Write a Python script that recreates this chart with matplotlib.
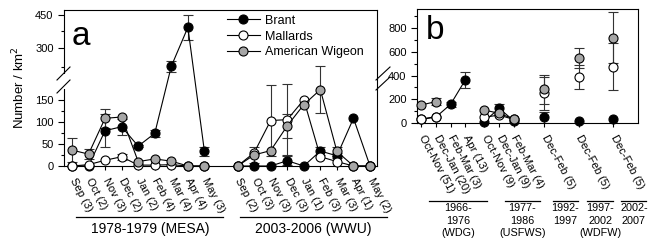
import numpy as np
import matplotlib
matplotlib.use("Agg")
import matplotlib.pyplot as plt
from matplotlib.lines import Line2D
from matplotlib.patches import Rectangle
import matplotlib.transforms as mtrans

plt.rcParams["font.family"] = ["Liberation Sans", "DejaVu Sans"]

# ---- panel a data (two survey periods, Sep..May) ----
months_a1 = ["Sep (3)", "Oct (2)", "Nov (3)", "Dec (2)", "Jan (2)", "Feb (4)",
             "Mar (4)", "Apr (4)", "May (3)"]
months_a2 = ["Sep (2)", "Oct (3)", "Nov (3)", "Dec (3)", "Jan (1)", "Feb (3)",
             "Mar (3)", "Apr (1)", "May (2)"]
groups_a = ["1978-1979 (MESA)", "2003-2006 (WWU)"]

brant_a1 = [0, 0, 80, 89, 45, 74, 226, 392, 33]
brant_a1_err = [0, 0, 37, 18, 3, 8, 12, 55, 11]
mallard_a1 = [0, 3, 13, 21, 2, 2, 3, 0, 0]
mallard_a1_err = [0, 0, 0, 7, 0, 0, 0, 0, 0]
wigeon_a1 = [36, 27, 108, 111, 10, 16, 11, 0, 0]
wigeon_a1_err = [28, 12, 22, 0, 0, 0, 0, 0, 0]

brant_a2 = [0, 0, 0, 12, 0, 34, 23, 108, 0]
brant_a2_err = [0, 0, 0, 10, 0, 8, 6, 0, 0]
mallard_a2 = [0, 30, 103, 105, 150, 21, 10, 0, 0]
mallard_a2_err = [0, 0, 80, 80, 0, 0, 0, 0, 0]
wigeon_a2 = [0, 25, 35, 91, 139, 173, 33, 0, 0]
wigeon_a2_err = [0, 18, 0, 27, 0, 53, 10, 0, 0]

# ---- panel b data (historic surveys) ----
periods_b = ["Oct-Nov (51)", "Dec-Jan (20)", "Feb-Mar (3)", "Apr (13)",
             "Oct-Nov (9)", "Dec-Jan (9)", "Feb-Mar (4)",
             "Dec-Feb (5)", "Dec-Feb (5)", "Dec-Feb (5)"]
brant_b = [30, 50, 157, 362, 11, 124, 20, 48, 20, 31]
brant_b_err = [0, 0, 20, 70, 0, 36, 0, 45, 0, 0]
mallard_b = [34, 53, np.nan, np.nan, 48, 67, 30, 250, 385, 474]
mallard_b_err = [0, 0, 0, 0, 0, 0, 0, 140, 100, 196]
wigeon_b = [152, 180, np.nan, np.nan, 109, 82, 34, 284, 545, 718]
wigeon_b_err = [0, 28, 0, 0, 0, 0, 0, 120, 84, 214]
groups_b = ["1966-\n1976\n(WDG)", "1977-\n1986\n(USFWS)", "1992-\n1997",
            "1997-\n2002\n(WDFW)", "2002-\n2007"]

# ---- layout ----
xa1 = np.arange(9)
xa2 = np.arange(9) + 10
xb = np.array([0, 1, 2, 3, 4.3, 5.3, 6.3, 8.4, 10.75, 13.1])
b_segments = [(0, 4), (4, 7), (7, 8), (8, 9), (9, 10)]

GRAY = "#a6a6a6"
styles = [("Brant", "black"), ("Mallards", "white"), ("American Wigeon", GRAY)]


def fwd(v):
    v = np.asarray(v, dtype=float)
    return np.where(v <= 236, v, 236 + 0.5 * (v - 236))


def inv(u):
    u = np.asarray(u, dtype=float)
    return np.where(u <= 236, u, 236 + 2.0 * (u - 236))


def plot_series(ax, x, y, err, face, label=None):
    err = np.asarray(err, dtype=float)
    ax.errorbar(x, y, yerr=np.where(err > 0, err, np.nan), fmt="none",
                ecolor="#333333", elinewidth=0.8, capsize=3.5, capthick=0.8,
                zorder=2)
    ax.plot(x, y, "-o", color="black", lw=0.8, mfc=face, mec="black",
            mew=0.8, ms=6.5, clip_on=False, zorder=3, label=label)


fig = plt.figure(figsize=(6.56, 2.46), dpi=100)
ax_a = fig.add_axes([64 / 656, 1 - 166 / 246, 313 / 656, 156.5 / 246])
ax_b = fig.add_axes([417 / 656, 1 - 123 / 246, 221 / 656, 114 / 246])

# panel a
ax_a.set_yscale("function", functions=(fwd, inv))
series_a = [(brant_a1, brant_a1_err, brant_a2, brant_a2_err),
            (mallard_a1, mallard_a1_err, mallard_a2, mallard_a2_err),
            (wigeon_a1, wigeon_a1_err, wigeon_a2, wigeon_a2_err)]
for (name, face), (y1, e1, y2, e2) in zip(styles, series_a):
    plot_series(ax_a, xa1, y1, e1, face, label=name)
    plot_series(ax_a, xa2, y2, e2, face)

ax_a.set_xlim(-0.48, 18.42)
ax_a.set_ylim(0, 473)
ax_a.set_yticks([0, 50, 100, 150, 300, 450])
ax_a.set_yticks([25, 75, 125, 225, 375], minor=True)
ax_a.set_xticks(np.concatenate([xa1, xa2]))
ax_a.set_xticklabels(months_a1 + months_a2, rotation=-62, ha="left",
                     va="center", rotation_mode="anchor", fontsize=8)
ax_a.tick_params(axis="x", length=3, pad=6, width=0.8)
ax_a.tick_params(axis="y", which="major", length=4, labelsize=8, width=0.8)
ax_a.tick_params(axis="y", which="minor", length=2.5, width=0.8)
ax_a.set_ylabel("Number / km$^2$", fontsize=9.5)
ax_a.yaxis.set_label_coords(-0.118, 0.5)
ax_a.text(0.025, 0.77, "a", transform=ax_a.transAxes, fontsize=24)
ax_a.legend(loc="upper left", bbox_to_anchor=(0.505, 1.0), frameon=False,
            fontsize=9, handlelength=2.6, labelspacing=0.32,
            handletextpad=0.45, borderaxespad=0)

tra = mtrans.blended_transform_factory(ax_a.transData, ax_a.transAxes)
for (x0, x1, xc), label in zip([(0.24, 9.1, 4.7), (10.15, 19.03, 14.56)],
                               groups_a):
    ax_a.add_line(Line2D([x0, x1], [-0.326, -0.326], transform=tra,
                         color="black", lw=0.9, clip_on=False))
    ax_a.text(xc, -0.40, label, transform=tra, ha="center", va="center",
              fontsize=10)

# panel b
series_b = [(brant_b, brant_b_err), (mallard_b, mallard_b_err),
            (wigeon_b, wigeon_b_err)]
for (name, face), (y, e) in zip(styles, series_b):
    y = np.asarray(y, dtype=float)
    e = np.asarray(e, dtype=float)
    for s0, s1 in b_segments:
        plot_series(ax_b, xb[s0:s1], y[s0:s1], e[s0:s1], face)

ax_b.set_xlim(-0.29, 14.78)
ax_b.set_ylim(0, 960)
ax_b.set_yticks([0, 200, 400, 600, 800])
ax_b.set_yticks(np.arange(100, 960, 100), minor=True)
ax_b.set_xticks(xb)
ax_b.set_xticklabels(periods_b, rotation=-62, ha="left", va="center",
                     rotation_mode="anchor", fontsize=8)
ax_b.tick_params(axis="x", length=3, pad=6, width=0.8)
ax_b.tick_params(axis="y", which="major", length=4, labelsize=8, width=0.8)
ax_b.tick_params(axis="y", which="minor", length=2.5, width=0.8)
ax_b.text(0.04, 0.74, "b", transform=ax_b.transAxes, fontsize=24)

trb = mtrans.blended_transform_factory(ax_b.transData, ax_b.transAxes)
b_lines = [(0.5, 4.5, 2.54), (5.73, 8.12, 6.89), (9.0, 10.7, 9.82),
           (11.3, 13.1, 12.2), (13.6, 15.3, 14.5)]
for (x0, x1, xc), label in zip(b_lines, groups_b):
    ax_b.add_line(Line2D([x0, x1], [-0.684, -0.684], transform=trb,
                         color="black", lw=0.9, clip_on=False))
    ax_b.text(xc, -0.705, label, transform=trb, ha="center", va="top",
              fontsize=7.8, linespacing=1.3)

for ax in (ax_a, ax_b):
    for sp in ax.spines.values():
        sp.set_linewidth(0.8)

# axis break marks (figure pixel coordinates)
def px(x, y):
    return x / 656, 1 - y / 246


fig.add_artist(Rectangle(px(62, 89), 4 / 656, 15 / 246, transform=fig.transFigure,
                         facecolor="white", edgecolor="none", zorder=5))
for yb in (80, 93):
    (x0, y0), (x1, y1) = px(57, yb), px(70, yb - 13)
    fig.add_artist(Line2D([x0, x1], [y0, y1], transform=fig.transFigure,
                          color="black", lw=0.8, zorder=6))
for yb in (80, 90):
    (x0, y0), (x1, y1) = px(376, yb), px(390, yb - 13)
    fig.add_artist(Line2D([x0, x1], [y0, y1], transform=fig.transFigure,
                          color="black", lw=0.8, zorder=6))

fig.savefig("out.png", dpi=100)
